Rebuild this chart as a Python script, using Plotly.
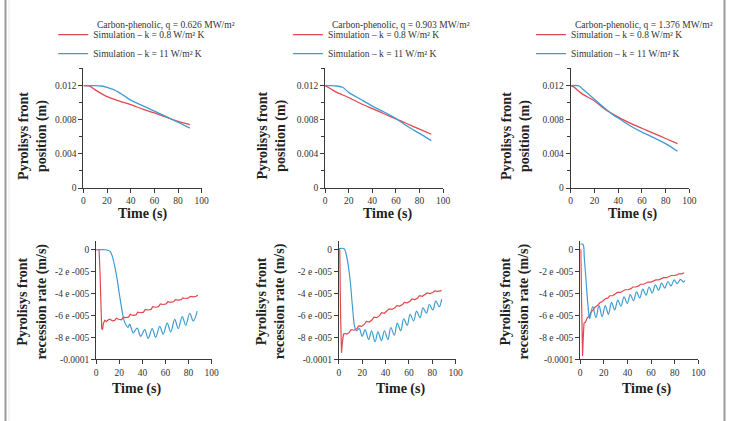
import plotly.graph_objects as go

W, H = 731, 421          # reference picture size (geometry below is given in these pixels)
FIG_W, FIG_H = 739, 429  # figure size handed to plotly
SERIF = "Liberation Serif, Times New Roman, serif"
RED = "#E2474F"
BLUE = "#3E9DD0"

# ---------------- data ----------------
case_titles = [
    "Carbon-phenolic, q = 0.626 MW/m²",
    "Carbon-phenolic, q = 0.903 MW/m²",
    "Carbon-phenolic, q = 1.376 MW/m²",
]
series_names = ["Simulation – k = 0.8 W/m² K", "Simulation – k = 11 W/m² K"]

# Pyrolysis front position (m) vs time (s)
pos1_red_t = [0, 5, 10, 20, 30, 40, 50, 60, 70, 80, 90]
pos1_red_y = [0.0120, 0.01195, 0.0115, 0.0107, 0.0102, 0.00976, 0.00925, 0.0088, 0.0083, 0.0078, 0.00742]
pos1_blue_t = [0, 5, 10, 15, 20, 25, 30, 35, 40, 50, 60, 70, 80, 90]
pos1_blue_y = [0.0120, 0.0120, 0.0120, 0.01195, 0.0118, 0.01155, 0.0112, 0.01075, 0.0103, 0.00965, 0.0090, 0.00838, 0.0077, 0.00702]

pos2_red_t = [0, 5, 10, 20, 30, 40, 50, 60, 70, 80, 90]
pos2_red_y = [0.0120, 0.0116, 0.0112, 0.0106, 0.0099, 0.0093, 0.0087, 0.0081, 0.0075, 0.0069, 0.0063]
pos2_blue_t = [0, 5, 10, 15, 20, 30, 40, 50, 60, 70, 80, 90]
pos2_blue_y = [0.0120, 0.0120, 0.01195, 0.0118, 0.0112, 0.0104, 0.0096, 0.0089, 0.00815, 0.0072, 0.0064, 0.00555]

pos3_red_t = [0, 3, 5, 10, 20, 30, 37, 40, 50, 60, 70, 80, 90]
pos3_red_y = [0.0120, 0.0118, 0.01155, 0.0110, 0.0102, 0.0091, 0.00855, 0.0083, 0.0076, 0.0070, 0.0064, 0.0058, 0.0052]
pos3_blue_t = [0, 6, 7.5, 10, 20, 30, 37, 40, 50, 60, 70, 80, 90]
pos3_blue_y = [0.0120, 0.0120, 0.01192, 0.0116, 0.0104, 0.0092, 0.00845, 0.0082, 0.0073, 0.00655, 0.0059, 0.0052, 0.0043]

# Pyrolysis front recession rate (m/s) vs time (s)
rate1_red_t = [0, 2.5, 3.3, 4.0, 4.8, 5.5, 6.3, 7.5, 9, 10.5, 12, 14, 16, 17.5, 19.5, 22, 23.5, 25.5, 28, 29.5, 32,
               34.5, 36, 38.5, 41, 42.5, 45, 47.5, 49, 51.5, 54, 55.5, 58, 60.5, 62, 64.5, 67, 68.5, 71, 73.5, 75,
               77.5, 80, 81.5, 84, 86.5, 88]
rate1_red_y = [0, 0, -20e-6, -55e-6, -72e-6, -73e-6, -67e-6, -64.5e-6, -65.5e-6, -64e-6, -63.5e-6, -65e-6, -64.5e-6,
               -62.5e-6, -63.5e-6, -64e-6, -61.5e-6, -62e-6, -61.5e-6, -59e-6, -60e-6, -59.5e-6, -57e-6, -57.5e-6,
               -57e-6, -54.5e-6, -55e-6, -54.5e-6, -52e-6, -52.5e-6, -52e-6, -49.5e-6, -50e-6, -49.5e-6, -47.5e-6,
               -48e-6, -47.5e-6, -45.5e-6, -46e-6, -45.5e-6, -44e-6, -44.5e-6, -44e-6, -42.5e-6, -43e-6, -42.5e-6,
               -41.5e-6]
rate1_blue_t = [0, 8, 10, 12, 14, 16, 18, 20, 22, 24, 26, 27.5, 29, 30.5, 32, 35.5, 38.5, 42, 45, 48.5, 51.5, 55, 58,
                61.5, 64.5, 68, 71, 74.5, 77.5, 81, 84, 87.5]
rate1_blue_y = [0, 0, -0.5e-6, -1.5e-6, -6e-6, -15e-6, -26e-6, -40e-6, -53e-6, -64e-6, -69e-6, -71e-6, -68e-6, -72e-6,
                -76e-6, -71.5e-6, -79e-6, -73e-6, -81e-6, -72e-6, -80e-6, -70e-6, -77e-6, -67e-6, -75e-6, -63.5e-6,
                -72e-6, -61e-6, -69e-6, -58e-6, -65e-6, -56e-6]

rate2_red_t = [0, 0.8, 1.5, 2.3, 3.0, 4.0, 5.5, 7, 9, 10.5, 13, 15.5, 17, 19.5, 22, 23.5, 26, 28.5, 30, 32.5, 35, 36.5,
               39, 41.5, 43, 45.5, 48, 49.5, 52, 54.5, 56, 58.5, 61, 62.5, 65, 67.5, 69, 71.5, 74, 75.5, 78, 80.5, 82,
               84.5, 87, 88]
rate2_red_y = [0, 0, -60e-6, -94e-6, -85e-6, -77e-6, -76.5e-6, -77e-6, -75.5e-6, -73e-6, -73.5e-6, -72e-6, -69.5e-6,
               -70e-6, -68e-6, -65.5e-6, -66e-6, -64e-6, -61.5e-6, -62e-6, -60e-6, -57.5e-6, -58e-6, -56e-6, -54e-6,
               -54.5e-6, -53e-6, -51e-6, -51.5e-6, -50e-6, -48e-6, -48.5e-6, -47e-6, -45e-6, -45.5e-6, -44e-6,
               -42e-6, -42.5e-6, -41e-6, -39.5e-6, -40e-6, -39e-6, -37.5e-6, -38e-6, -37.5e-6, -37e-6]
rate2_blue_t = [0, 4.5, 6.5, 9.5, 11.5, 13.5, 15, 17.5, 20, 22.5, 25.5, 28, 31, 33.5, 36.5, 39, 42, 44.5, 47.5, 50,
                53, 55.5, 58.5, 61, 64, 66.5, 69.5, 72, 75, 77.5, 80.5, 83, 86, 88]
rate2_blue_y = [1e-6, 1e-6, -5e-6, -26e-6, -50e-6, -70e-6, -74e-6, -72e-6, -79e-6, -73e-6, -82e-6, -74e-6, -84e-6,
                -75e-6, -83e-6, -74e-6, -82e-6, -71e-6, -78e-6, -67e-6, -74e-6, -63e-6, -69e-6, -59e-6, -65e-6,
                -56e-6, -62e-6, -53e-6, -58e-6, -50e-6, -55e-6, -47e-6, -52e-6, -45e-6]

rate3_red_t = [0, 0.5, 1.2, 2.0, 2.6, 3.2, 4.5, 6, 7.5, 9, 11, 12.5, 14.5, 17, 18.5, 21, 23.5, 25, 27.5, 30, 31.5, 34,
               36.5, 38, 40.5, 43, 44.5, 47, 49.5, 51, 53.5, 56, 57.5, 60, 62.5, 64, 66.5, 69, 70.5, 73, 75.5, 77,
               79.5, 82, 83.5, 86, 88]
rate3_red_y = [0, 0, -50e-6, -97e-6, -80e-6, -67e-6, -66e-6, -62e-6, -61e-6, -57e-6, -55e-6, -52.5e-6, -51e-6,
               -48e-6, -47.5e-6, -45e-6, -44e-6, -42e-6, -42e-6, -40.5e-6, -39e-6, -39e-6, -37.5e-6, -36.5e-6,
               -36.5e-6, -35.5e-6, -34e-6, -34e-6, -33e-6, -31.5e-6, -31.5e-6, -30.5e-6, -29.5e-6, -29.5e-6,
               -28.5e-6, -27.5e-6, -27.5e-6, -26.5e-6, -25.5e-6, -25.5e-6, -24.5e-6, -23.5e-6, -23.5e-6, -23e-6,
               -22e-6, -22e-6, -21e-6]
rate3_blue_t = [0, 2.3, 3.5, 5, 6.5, 8, 10.6, 13.3, 15.9, 18.6, 21.2, 23.9, 26.5, 29.2, 31.8, 34.5, 37.1, 39.8, 42.4,
                45.1, 47.7, 50.4, 53.0, 55.7, 58.3, 61.0, 63.6, 66.3, 68.9, 71.6, 74.2, 76.9, 79.5, 82.2, 84.8, 87.5,
                88.5]
rate3_blue_y = [5e-6, 5e-6, -8e-6, -29e-6, -50e-6, -63e-6, -52e-6, -62e-6, -51e-6, -61e-6, -51e-6, -59e-6, -48e-6,
                -55e-6, -46e-6, -51.5e-6, -43e-6, -49e-6, -41e-6, -46.5e-6, -38.5e-6, -44e-6, -36e-6, -41.5e-6,
                -34e-6, -39.5e-6, -32e-6, -37e-6, -30.5e-6, -35e-6, -29e-6, -33e-6, -27.5e-6, -31e-6, -27e-6,
                -29.5e-6, -28e-6]

time_ticks = [0, 20, 40, 60, 80, 100]
pos_tickvals = [0, 0.004, 0.008, 0.012]
pos_ticktext = ["0", "0.004", "0.008", "0.012"]
rate_tickvals = [0, -2e-5, -4e-5, -6e-5, -8e-5, -1e-4]
rate_ticktext = ["0", "-2 e -005", "-4 e -005", "-6 e -005", "-8 e -005", "-0.0001"]

pos_data = [
    (pos1_red_t, pos1_red_y, pos1_blue_t, pos1_blue_y),
    (pos2_red_t, pos2_red_y, pos2_blue_t, pos2_blue_y),
    (pos3_red_t, pos3_red_y, pos3_blue_t, pos3_blue_y),
]
rate_data = [
    (rate1_red_t, rate1_red_y, rate1_blue_t, rate1_blue_y),
    (rate2_red_t, rate2_red_y, rate2_blue_t, rate2_blue_y),
    (rate3_red_t, rate3_red_y, rate3_blue_t, rate3_blue_y),
]

# ---------------- layout geometry (reference pixels) ----------------
top_x_px = [(81.5, 200.0), (323.5, 441.7), (569.5, 688.3)]
top_y_px = (68.0, 186.7)
bot_x_px = [(94.3, 210.0), (337.3, 454.3), (579.0, 697.3)]
bot_y_px = (239.3, 356.7)
legend_text_x = [93.3, 328.3, 571.7]
ytitle_x_top = [31, 270, 514.7]
ytitle_x_bot = [30.5, 269.5, 514]
xtitle_x_top = [141, 386, 631]
xtitle_x_bot = [135, 399, 645]


def xd(p):
    return [p[0] / W, p[1] / W]


def yd(p):
    return [1 - p[1] / H, 1 - p[0] / H]


fig = go.Figure()

axis_base = dict(
    showline=True, linecolor="#3a3a3a", linewidth=1, ticks="outside", ticklen=4,
    tickcolor="#3a3a3a", tickwidth=1, showgrid=False, zeroline=False,
    tickfont=dict(family=SERIF, size=9.5, color="#333333"), fixedrange=True,
)

layout_axes = {}
legend_names = ["legend", "legend2", "legend3"]

for i in range(3):
    n = i + 1
    xa = "x" if n == 1 else f"x{n}"
    ya = "y" if n == 1 else f"y{n}"
    rt, ry, bt, by = pos_data[i]
    fig.add_trace(go.Scatter(x=rt, y=ry, mode="lines", name=series_names[0],
                             line=dict(color=RED, width=1.3, shape="spline", smoothing=0.6),
                             xaxis=xa, yaxis=ya, legend=legend_names[i], showlegend=True))
    fig.add_trace(go.Scatter(x=bt, y=by, mode="lines", name=series_names[1],
                             line=dict(color=BLUE, width=1.3, shape="spline", smoothing=0.6),
                             xaxis=xa, yaxis=ya, legend=legend_names[i], showlegend=True))
    layout_axes["xaxis" if n == 1 else f"xaxis{n}"] = dict(
        axis_base, domain=xd(top_x_px[i]), range=[0, 100], tickvals=time_ticks, anchor=ya)
    layout_axes["yaxis" if n == 1 else f"yaxis{n}"] = dict(
        axis_base, domain=yd(top_y_px), range=[0, 0.014], tickvals=pos_tickvals, ticktext=pos_ticktext, anchor=xa,
        minor=dict(tickvals=[0.002, 0.006, 0.010, 0.014], ticks="outside", ticklen=3, tickcolor="#3a3a3a"))

    m = i + 4
    xb = f"x{m}"
    yb = f"y{m}"
    rt, ry, bt, by = rate_data[i]
    fig.add_trace(go.Scatter(x=rt, y=ry, mode="lines", name=series_names[0], line=dict(color=RED, width=1.2),
                             xaxis=xb, yaxis=yb, showlegend=False))
    fig.add_trace(go.Scatter(x=bt, y=by, mode="lines", name=series_names[1], line=dict(color=BLUE, width=1.2, shape="spline"),
                             xaxis=xb, yaxis=yb, showlegend=False))
    layout_axes[f"xaxis{m}"] = dict(axis_base, domain=xd(bot_x_px[i]), range=[0, 100], tickvals=time_ticks, anchor=yb)
    layout_axes[f"yaxis{m}"] = dict(axis_base, domain=yd(bot_y_px), range=[-1e-4, 8e-6], tickvals=rate_tickvals,
                                    ticktext=rate_ticktext, anchor=xb)

annotations = []
for i in range(3):
    annotations.append(dict(text=case_titles[i], x=legend_text_x[i] / W, y=1 - 24.5 / H, xref="paper", yref="paper",
                            xanchor="left", yanchor="middle", showarrow=False,
                            font=dict(family=SERIF, size=9.5, color="#333333")))
    annotations.append(dict(text="<b>Pyrolisys front<br>position (m)</b>", x=ytitle_x_top[i] / W, y=1 - 135 / H,
                            xref="paper", yref="paper", xanchor="center", yanchor="middle", textangle=-90,
                            showarrow=False, font=dict(family=SERIF, size=14, color="#222222")))
    annotations.append(dict(text="<b>Pyrolisys front<br>recession rate (m/s)</b>", x=ytitle_x_bot[i] / W,
                            y=1 - 299 / H, xref="paper", yref="paper", xanchor="center", yanchor="middle",
                            textangle=-90, showarrow=False, font=dict(family=SERIF, size=14, color="#222222")))
    annotations.append(dict(text="<b>Time (s)</b>", x=xtitle_x_top[i] / W, y=1 - 212 / H, xref="paper", yref="paper",
                            xanchor="center", yanchor="middle", showarrow=False,
                            font=dict(family=SERIF, size=14, color="#222222")))
    annotations.append(dict(text="<b>Time (s)</b>", x=xtitle_x_bot[i] / W, y=1 - 386.5 / H, xref="paper", yref="paper",
                            xanchor="center", yanchor="middle", showarrow=False,
                            font=dict(family=SERIF, size=14, color="#222222")))

legends = {}
for i, ln in enumerate(legend_names):
    legends[ln] = dict(x=(legend_text_x[i] - 42) / W, y=1 - 20 / H, xanchor="left", yanchor="top",
                       bgcolor="rgba(0,0,0,0)", borderwidth=0, font=dict(family=SERIF, size=9.5, color="#333333"),
                       tracegroupgap=0, itemclick=False, itemdoubleclick=False)

shapes = [
    dict(type="line", xref="paper", yref="paper", x0=3.5 / W, x1=3.5 / W, y0=0, y1=1, line=dict(color="#9b9b9b", width=2)),
    dict(type="line", xref="paper", yref="paper", x0=7 / W, x1=7 / W, y0=0, y1=1, line=dict(color="#ececec", width=1)),
    dict(type="line", xref="paper", yref="paper", x0=723.5 / W, x1=723.5 / W, y0=0, y1=1, line=dict(color="#9b9b9b", width=2)),
]

fig.update_layout(
    width=FIG_W, height=FIG_H, margin=dict(l=0, r=0, t=0, b=0), autosize=False,
    paper_bgcolor="white", plot_bgcolor="white",
    font=dict(family=SERIF, color="#333333"),
    annotations=annotations, shapes=shapes,
    **legends, **layout_axes,
)

fig.write_html("out.html", config={"displayModeBar": False})
